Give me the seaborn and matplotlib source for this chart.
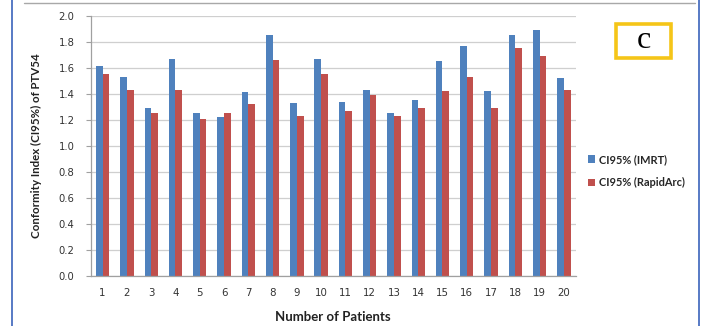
import matplotlib
matplotlib.use("Agg")
import matplotlib.pyplot as plt
import seaborn as sns
import pandas as pd
from matplotlib.lines import Line2D
from matplotlib.patches import Rectangle

patients = [str(i) for i in range(1, 21)]
imrt = [1.61, 1.53, 1.29, 1.67, 1.25, 1.22, 1.41, 1.85, 1.33, 1.67,
        1.34, 1.43, 1.25, 1.35, 1.65, 1.77, 1.42, 1.85, 1.89, 1.52]
rapidarc = [1.55, 1.43, 1.25, 1.43, 1.21, 1.25, 1.32, 1.66, 1.23, 1.55,
            1.27, 1.39, 1.23, 1.29, 1.42, 1.53, 1.29, 1.75, 1.69, 1.43]
series_names = ["CI95% (IMRT)", "CI95% (RapidArc)"]
yticks = [0.0, 0.2, 0.4, 0.6, 0.8, 1.0, 1.2, 1.4, 1.6, 1.8, 2.0]

df = pd.DataFrame({
    "Patient": patients * 2,
    "CI": imrt + rapidarc,
    "Series": [series_names[0]] * len(patients) + [series_names[1]] * len(patients),
})

sns.set_style("white")
W, H = 708, 326
fig = plt.figure(figsize=(W / 100, H / 100), dpi=100)
ax = fig.add_axes([90.5 / W, 1 - 276 / H, (576 - 90.5) / W, (276 - 15.7) / H])

palette = {series_names[0]: "#4F81BD", series_names[1]: "#C0504D"}
sns.barplot(data=df, x="Patient", y="CI", hue="Series", order=patients,
            hue_order=series_names, palette=palette, width=0.55, gap=0,
            saturation=1, ax=ax, legend=True, edgecolor="none", linewidth=0)

ax.set_ylim(0, 2.0)
ax.set_xlim(-0.5, len(patients) - 0.5)
ax.set_yticks(yticks)
ax.set_yticklabels([f"{v:.1f}" for v in yticks], fontsize=7.2, color="#333333",
                   family="DejaVu Sans")
ax.set_xticks(range(len(patients)))
ax.set_xticklabels(patients, fontsize=7.4, color="#333333", family="DejaVu Sans")
ax.tick_params(axis="y", length=3.5, color="#a0a0a0", width=0.8, pad=8, left=True)
ax.tick_params(axis="x", length=0, pad=9)
ax.yaxis.grid(True, color="#cfcfcf", linewidth=0.9)
ax.set_axisbelow(True)
for s in ["top", "right"]:
    ax.spines[s].set_visible(False)
for s in ["left", "bottom"]:
    ax.spines[s].set_color("#a0a0a0")
    ax.spines[s].set_linewidth(0.9)

ax.set_xlabel("Number of Patients", fontsize=9.5, fontweight="bold",
              family="Lato", color="#222222", labelpad=9)
ax.set_ylabel("Conformity Index (CI95%) of PTV54", fontsize=8.3, fontweight="bold",
              family="Lato", color="#222222", labelpad=12)

handles, labels = ax.get_legend_handles_labels()
ax.legend_.remove()
fig.legend(handles, labels, loc="center left", bbox_to_anchor=(578 / W, 1 - 171 / H),
           frameon=False, prop={"family": "Lato", "weight": "bold", "size": 7.9},
           handlelength=0.65, handleheight=0.65, handletextpad=0.4, labelspacing=1.1)

# outer frame
fig.add_artist(Line2D([12 / W, 12 / W], [0, 1], color="#4a6fc0", linewidth=1.3,
                      transform=fig.transFigure))
fig.add_artist(Line2D([699 / W, 699 / W], [0, 1], color="#4a6fc0", linewidth=1.3,
                      transform=fig.transFigure))
fig.add_artist(Line2D([24 / W, 695 / W], [1 - 3 / H, 1 - 3 / H], color="#a8a8a8",
                      linewidth=1.0, transform=fig.transFigure))

# panel label box
fig.add_artist(Rectangle((616 / W, 1 - 57.5 / H), (671 - 616) / W, (57.5 - 23.5) / H,
                         fill=False, edgecolor="#F5C518", linewidth=2.6,
                         transform=fig.transFigure))
fig.text(643.5 / W, 1 - 41 / H, "c", fontsize=23, family="Liberation Serif",
         ha="center", va="center", color="black")

fig.savefig("out.png", dpi=100)
